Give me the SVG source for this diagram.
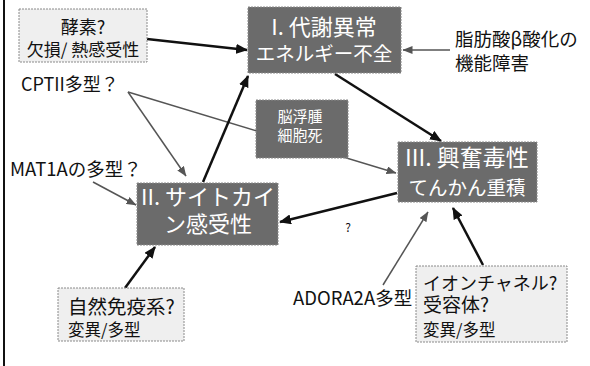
<svg xmlns="http://www.w3.org/2000/svg" width="590" height="366" viewBox="0 0 590 366">
<style>
text{font-family:"Noto Sans CJK JP","DejaVu Sans",sans-serif;}
.dark{fill:#6b6b6b;stroke:#8a8a8a;stroke-width:1;stroke-dasharray:2 1;}
.light{fill:#efefef;stroke:#8a8a8a;stroke-width:1;stroke-dasharray:2 1;}
.wt{fill:#ffffff;text-anchor:middle;}
.bt{fill:#111111;}
.blk{stroke:#111;stroke-width:2.5;fill:none;marker-end:url(#ab);}
.gry{stroke:#555;stroke-width:1.5;fill:none;marker-end:url(#ag);}
</style>
<defs>
<marker id="ab" markerUnits="userSpaceOnUse" markerWidth="12" markerHeight="10" refX="11" refY="5" orient="auto"><path d="M0,0 L12,5 L0,10 z" fill="#111"/></marker>
<marker id="ag" markerUnits="userSpaceOnUse" markerWidth="10" markerHeight="8" refX="9.5" refY="4" orient="auto"><path d="M0,0 L10,4 L0,8 z" fill="#555"/></marker>
</defs>
<rect width="590" height="366" fill="#ffffff"/>
<line x1="4" y1="0" x2="4" y2="366" stroke="#111" stroke-width="2"/>
<g id="connectors">
<line class="blk" x1="147" y1="39" x2="247" y2="50"/>
<line class="gry" x1="450" y1="50" x2="403" y2="50"/>
<line class="blk" x1="335" y1="74" x2="441" y2="141"/>
<line class="gry" x1="128" y1="92" x2="186" y2="176"/>
<line class="gry" x1="128" y1="92" x2="396" y2="173"/>
<line class="gry" x1="93" y1="182" x2="136" y2="205"/>
<line class="blk" x1="203" y1="182" x2="248" y2="76"/>
<line class="blk" x1="397" y1="193" x2="280" y2="222"/>
<line class="blk" x1="125" y1="288" x2="155" y2="247"/>
<line class="gry" x1="383" y1="285" x2="428" y2="212"/>
<line class="blk" x1="483" y1="265" x2="453" y2="208"/>
</g>
<g id="enzyme">
<rect class="light" x="19" y="9" width="128" height="53"/>
<text class="bt" x="83" y="34" font-size="18" text-anchor="middle">酵素?</text>
<text class="bt" x="83" y="56" font-size="17" text-anchor="middle">欠損/ 熱感受性</text>
</g>
<g id="node1">
<rect class="dark" x="248" y="7" width="153" height="66"/>
<text class="wt" x="324" y="35" font-size="22">I. 代謝異常</text>
<text class="wt" x="324" y="61" font-size="19.5">エネルギー不全</text>
</g>
<g id="fao">
<text class="bt" x="455" y="46" font-size="18.5">脂肪酸β酸化の</text>
<text class="bt" x="455" y="70" font-size="18.5">機能障害</text>
</g>
<g id="cpt2">
<text class="bt" x="21" y="91" font-size="18">CPTII多型？</text>
</g>
<g id="edema">
<rect class="dark" x="256" y="100" width="92" height="58"/>
<text class="wt" x="300" y="122" font-size="15">脳浮腫</text>
<text class="wt" x="300" y="141" font-size="15">細胞死</text>
</g>
<g id="mat1a">
<text class="bt" x="10" y="176" font-size="18.5">MAT1Aの多型？</text>
</g>
<g id="node3">
<rect class="dark" x="398" y="142" width="139" height="60"/>
<text class="wt" x="467" y="166" font-size="23">III. 興奮毒性</text>
<text class="wt" x="467" y="195" font-size="19.5">てんかん重積</text>
</g>
<g id="node2">
<rect class="dark" x="137" y="183" width="141" height="62"/>
<text class="wt" x="208" y="205" font-size="22">II. サイトカイ</text>
<text class="wt" x="208" y="232" font-size="22">ン感受性</text>
</g>
<g id="qmark">
<text class="bt" x="348" y="232" font-size="12" text-anchor="middle">?</text>
</g>
<g id="innate">
<rect class="light" x="58" y="288" width="126" height="53"/>
<text class="bt" x="68" y="314" font-size="19.5">自然免疫系?</text>
<text class="bt" x="68" y="336" font-size="16.5">変異/多型</text>
</g>
<g id="adora">
<text class="bt" x="293" y="305" font-size="18.5">ADORA2A多型</text>
</g>
<g id="channel">
<rect class="light" x="416" y="266" width="151" height="76"/>
<text class="bt" x="423" y="290" font-size="18">イオンチャネル?</text>
<text class="bt" x="423" y="312" font-size="19">受容体?</text>
<text class="bt" x="423" y="336" font-size="16.5">変異/多型</text>
</g>
</svg>
